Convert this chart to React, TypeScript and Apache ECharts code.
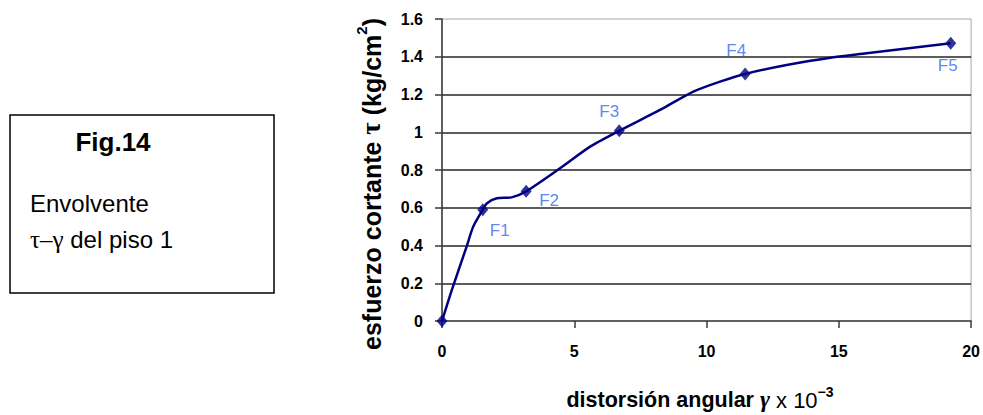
import React, { useEffect, useRef } from "react";
import * as echarts from "echarts";

// Curve traced through the envelope (x = distortion ×10^-3, y = shear stress kg/cm²)
const curveX = [0, 0.37, 0.93, 1.18, 1.54, 1.69, 2.07, 2.63, 3.18, 4.46, 5.6, 6.7, 8.24, 9.5, 10.51, 11.46, 13.03, 14.8, 16.05, 17.32, 19.23];
const curveY = [0, 0.164, 0.394, 0.5, 0.59, 0.623, 0.65, 0.655, 0.687, 0.809, 0.924, 1.008, 1.118, 1.215, 1.268, 1.309, 1.356, 1.397, 1.418, 1.44, 1.471];

// Marked points
const pointNames = ["", "F1", "F2", "F3", "F4", "F5"];
const pointX = [0, 1.54, 3.18, 6.7, 11.46, 19.23];
const pointY = [0, 0.59, 0.687, 1.008, 1.309, 1.471];

// Axis settings
const xMin = 0;
const xMax = 20;
const xStep = 5;
const yMin = 0;
const yMax = 1.6;
const yStep = 0.2;

// Label placement (styling, px offsets from the marker)
const labelOffsets: [number, number][] = [
  [0, 0],
  [17, 21],
  [23, 9],
  [-10, -19],
  [-9, -23],
  [-3, 22],
];

const SANS = "'Liberation Sans', Arial, Helvetica, sans-serif";
const SERIF = "'Liberation Serif', 'Times New Roman', serif";

export default function App() {
  const ref = useRef<HTMLDivElement>(null);

  useEffect(() => {
    if (!ref.current) return;
    const chart = echarts.init(ref.current, undefined, { renderer: "svg" });

    const curveData = curveX.map((x, i) => [x, curveY[i]]);
    const pointData = pointX.map((x, i) => ({
      value: [x, pointY[i]],
      name: pointNames[i],
      label: {
        show: pointNames[i] !== "",
        position: "inside",
        offset: labelOffsets[i],
      },
    }));

    chart.setOption({
      animation: false,
      backgroundColor: "#ffffff",
      grid: {
        left: 442,
        right: 11,
        top: 19,
        bottom: 94,
        show: true,
        borderColor: "#a8a8a8",
        borderWidth: 1,
        backgroundColor: "transparent",
      },
      xAxis: {
        type: "value",
        min: xMin,
        max: xMax,
        interval: xStep,
        axisLine: { show: true, lineStyle: { color: "#3a3a3a", width: 1.5 } },
        axisTick: { show: true, inside: false, length: 7, lineStyle: { color: "#3a3a3a", width: 1.5 } },
        splitLine: { show: false },
        axisLabel: {
          margin: 22,
          color: "#000",
          fontFamily: SANS,
          fontWeight: "bold",
          fontSize: 16,
        },
      },
      yAxis: {
        type: "value",
        min: yMin,
        max: yMax,
        interval: yStep,
        axisLine: { show: true, lineStyle: { color: "#3a3a3a", width: 1.5 } },
        axisTick: { show: true, inside: false, length: 7, lineStyle: { color: "#3a3a3a", width: 1.5 } },
        splitLine: {
          show: true,
          showMinLine: false,
          showMaxLine: false,
          lineStyle: { color: "#262626", width: 1.5 },
        },
        axisLabel: {
          margin: 19,
          color: "#000",
          fontFamily: SANS,
          fontWeight: "bold",
          fontSize: 16,
        },
      },
      series: [
        {
          type: "line",
          data: curveData,
          smooth: 0.25,
          showSymbol: false,
          symbol: "none",
          lineStyle: { color: "#000080", width: 2.5 },
          z: 3,
        },
        {
          type: "scatter",
          data: pointData,
          symbol: "diamond",
          symbolSize: [11, 13],
          itemStyle: { color: "#000080" },
          label: {
            show: true,
            formatter: "{b}",
            color: "#3366ee",
            fontFamily: SANS,
            fontSize: 17,
          },
          z: 4,
        },
      ],
      graphic: [
        {
          type: "rect",
          shape: { x: 10, y: 115, width: 264, height: 178 },
          style: { fill: "#fff", stroke: "#000", lineWidth: 1.5 },
        },
        {
          type: "text",
          x: 113,
          y: 142,
          style: {
            text: "Fig.14",
            fill: "#000",
            font: `bold 26px ${SANS}`,
            align: "center",
            verticalAlign: "middle",
          },
        },
        {
          type: "text",
          x: 30,
          y: 203,
          style: {
            text: "Envolvente",
            fill: "#000",
            font: `24px ${SANS}`,
            align: "left",
            verticalAlign: "middle",
          },
        },
        {
          type: "text",
          x: 30,
          y: 239,
          style: {
            text: "{g|τ–γ}{s| del piso 1}",
            align: "left",
            verticalAlign: "middle",
            rich: {
              g: { fill: "#000", fontFamily: SERIF, fontSize: 25 },
              s: { fill: "#000", fontFamily: SANS, fontSize: 24 },
            },
          },
        },
        {
          type: "text",
          x: 700,
          y: 398,
          style: {
            text: "{b|distorsión angular }{g|γ}{n| x 10}{p|−3}",
            align: "center",
            verticalAlign: "middle",
            rich: {
              b: { fill: "#000", fontFamily: SANS, fontWeight: "bold", fontSize: 21.5, lineHeight: 26, verticalAlign: "bottom" },
              g: { fill: "#000", fontFamily: SERIF, fontStyle: "italic", fontWeight: "bold", fontSize: 24, lineHeight: 26, verticalAlign: "bottom" },
              n: { fill: "#000", fontFamily: SANS, fontSize: 22, lineHeight: 26, verticalAlign: "bottom" },
              p: { fill: "#000", fontFamily: SANS, fontWeight: "bold", fontSize: 14, lineHeight: 26, verticalAlign: "top" },
            },
          },
        },
        {
          type: "text",
          x: 369,
          y: 184,
          rotation: Math.PI / 2,
          style: {
            text: "{b|esfuerzo cortante }{t|τ}{b| (kg/cm}{p|2}{b|)}",
            align: "center",
            verticalAlign: "middle",
            rich: {
              b: { fill: "#000", fontFamily: SANS, fontWeight: "bold", fontSize: 25, lineHeight: 30, verticalAlign: "bottom" },
              t: { fill: "#000", fontFamily: SERIF, fontWeight: "bold", fontSize: 27, lineHeight: 30, verticalAlign: "bottom" },
              p: { fill: "#000", fontFamily: SANS, fontWeight: "bold", fontSize: 15, lineHeight: 30, verticalAlign: "top" },
            },
          },
        },
      ],
    });

    return () => chart.dispose();
  }, []);

  return (
    <div
      ref={ref}
      style={{ position: "fixed", left: 0, top: 0, width: 983, height: 415 }}
    />
  );
}
